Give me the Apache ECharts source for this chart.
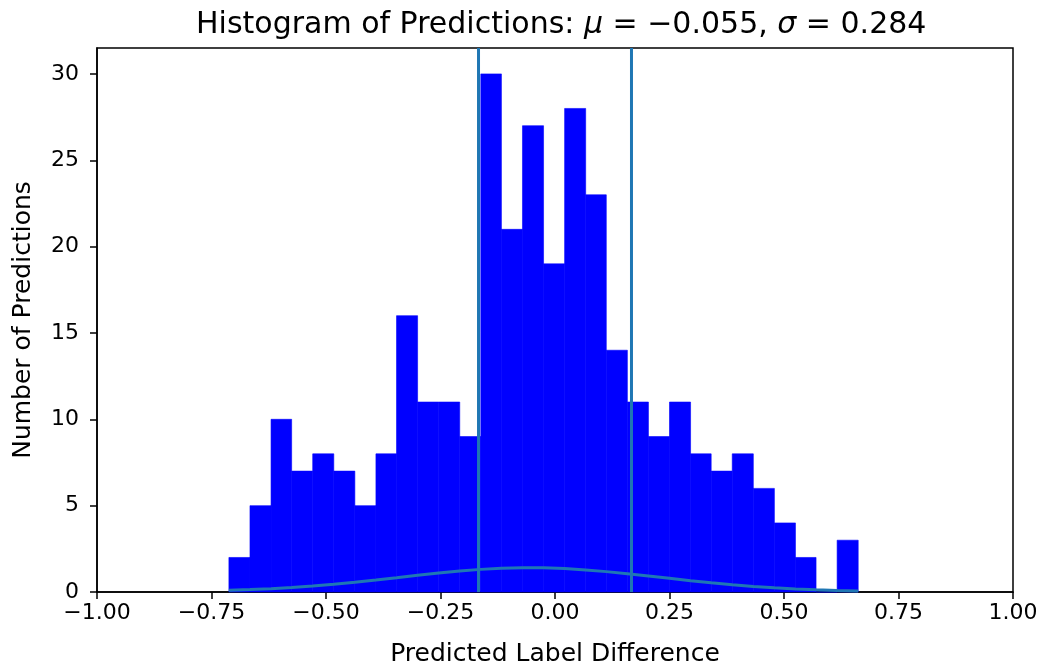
<!DOCTYPE html>
<html>
<head>
<meta charset="utf-8">
<script src="https://cdn.jsdelivr.net/npm/echarts@6/dist/echarts.min.js"></script>
<style>
  html, body { margin: 0; padding: 0; background: #fff; }
  #main { width: 1046px; height: 672px; }
</style>
</head>
<body>
<div id="main"></div>
<script>
var myChart = echarts.init(document.getElementById('main'));

// histogram bin edges (31 edges -> 30 bins)
var binEdges = [-0.712, -0.666, -0.620, -0.575, -0.529, -0.483, -0.437, -0.391, -0.346, -0.300,
  -0.254, -0.208, -0.162, -0.117, -0.071, -0.025, 0.021, 0.067, 0.112, 0.158,
  0.204, 0.250, 0.296, 0.341, 0.387, 0.433, 0.479, 0.525, 0.570, 0.616, 0.662];

// counts per bin
var counts = [2, 5, 10, 7, 8, 7, 5, 8, 16, 11,
  11, 9, 30, 21, 27, 19, 28, 23, 14, 11,
  9, 11, 8, 7, 8, 6, 4, 2, 0, 3];

// fitted normal curve, read at the bin edges
var curveValues = [0.10, 0.14, 0.19, 0.26, 0.35, 0.45, 0.57, 0.70, 0.83, 0.97,
  1.10, 1.22, 1.31, 1.37, 1.40, 1.40, 1.36, 1.28, 1.18, 1.06,
  0.93, 0.79, 0.65, 0.53, 0.42, 0.32, 0.24, 0.18, 0.13, 0.09, 0.06];

// vertical marker lines
var vLines = [-0.167, 0.167];

// tick positions
var xTickValues = [-1, -0.75, -0.5, -0.25, 0, 0.25, 0.5, 0.75, 1];
var yTickValues = [0, 5, 10, 15, 20, 25, 30];
var yMax = 31.5;

var histData = counts.map(function (c, i) {
  return [binEdges[i], binEdges[i + 1], c];
});
var curveData = binEdges.map(function (x, i) {
  return [x, curveValues[i]];
});

var lineColor = '#1f77b4';
var font = 'DejaVu Sans';

var vSeries = vLines.map(function (x) {
  return {
    type: 'line',
    data: [[x, 0], [x, yMax]],
    showSymbol: false,
    silent: true,
    lineStyle: { color: lineColor, width: 3 },
    z: 4
  };
});

var option = {
  animation: false,
  backgroundColor: '#fff',
  title: {
    text: '{n|Histogram of Predictions: }{i|μ}{n| = −0.055, }{i|σ}{n| = 0.284}',
    left: 191,
    top: 5,
    textStyle: {
      rich: {
        n: { fontFamily: font, fontSize: 30, fontWeight: 'normal', color: '#000' },
        i: { fontFamily: font, fontSize: 30, fontWeight: 'normal', color: '#000', fontStyle: 'italic' }
      }
    }
  },
  grid: {
    left: 97, right: 33, top: 48, bottom: 77,
    show: true,
    borderColor: '#000',
    borderWidth: 1.5,
    backgroundColor: 'transparent'
  },
  xAxis: {
    type: 'value',
    min: xTickValues[0],
    max: xTickValues[xTickValues.length - 1],
    interval: 0.25,
    name: 'Predicted Label Difference',
    nameLocation: 'middle',
    nameGap: 50,
    nameTextStyle: { fontFamily: font, fontSize: 25, color: '#000' },
    axisLine: { show: true, onZero: false, lineStyle: { color: '#000', width: 1.5 } },
    axisTick: { show: true, length: 7, lineStyle: { color: '#000', width: 1.5 } },
    splitLine: { show: false },
    axisLabel: {
      fontFamily: font, fontSize: 22, color: '#000', margin: 10,
      formatter: function (v) { return v.toFixed(2).replace('-', '−'); }
    }
  },
  yAxis: {
    type: 'value',
    min: 0,
    max: yMax,
    interval: 5,
    name: 'Number of Predictions',
    nameLocation: 'middle',
    nameGap: 61,
    nameTextStyle: { fontFamily: font, fontSize: 25, color: '#000' },
    axisLine: { show: true, onZero: false, lineStyle: { color: '#000', width: 1.5 } },
    axisTick: { show: true, length: 7, customValues: yTickValues, lineStyle: { color: '#000', width: 1.5 } },
    splitLine: { show: false },
    axisLabel: {
      fontFamily: font, fontSize: 22, color: '#000', margin: 18,
      customValues: yTickValues
    }
  },
  series: [
    {
      type: 'custom',
      data: histData,
      encode: { x: [0, 1], y: 2 },
      renderItem: function (params, api) {
        var p0 = api.coord([api.value(0), api.value(2)]);
        var p1 = api.coord([api.value(1), 0]);
        return {
          type: 'rect',
          shape: { x: p0[0], y: p0[1], width: p1[0] - p0[0], height: p1[1] - p0[1] },
          style: { fill: '#0000ff', stroke: '#0000ff', lineWidth: 0.6 }
        };
      },
      z: 2
    },
    {
      type: 'line',
      data: curveData,
      showSymbol: false,
      silent: true,
      lineStyle: { color: lineColor, width: 3 },
      z: 3
    }
  ].concat(vSeries)
};

myChart.setOption(option);
</script>
</body>
</html>
